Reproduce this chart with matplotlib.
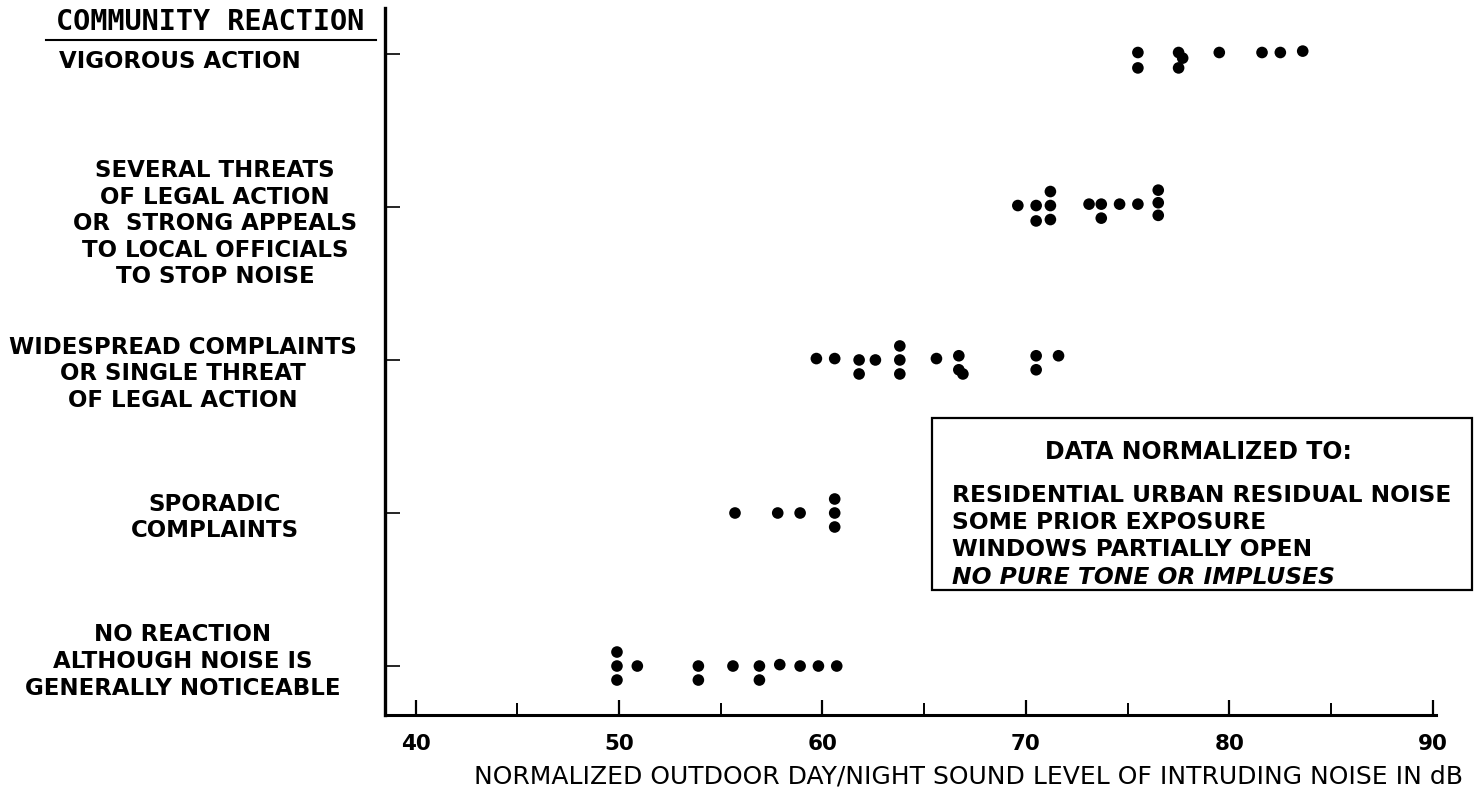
import matplotlib
matplotlib.use("Agg")
import matplotlib.pyplot as plt
from matplotlib.transforms import blended_transform_factory
from matplotlib.lines import Line2D
from matplotlib.patches import Rectangle

# ---------------- data ----------------
categories = [
    "NO REACTION\nALTHOUGH NOISE IS\nGENERALLY NOTICEABLE",
    "SPORADIC\nCOMPLAINTS",
    "WIDESPREAD COMPLAINTS\nOR SINGLE THREAT\nOF LEGAL ACTION",
    "SEVERAL THREATS\nOF LEGAL ACTION\nOR  STRONG APPEALS\nTO LOCAL OFFICIALS\nTO STOP NOISE",
    "VIGOROUS ACTION",
]

no_reaction_db = [49.9, 49.9, 49.9, 50.9, 53.9, 53.9, 55.6, 56.9, 56.9, 57.9, 58.9, 59.8, 60.7]
no_reaction_stack = [1, 0, -1, 0, 0, -1, 0, 0, -1, 0.1, 0, 0, 0]

sporadic_db = [55.7, 57.8, 58.9, 60.6, 60.6, 60.6]
sporadic_stack = [0, 0, 0, 1, 0, -1]

widespread_db = [59.7, 60.6, 61.8, 61.8, 62.6, 63.8, 63.8, 63.8, 65.6, 66.7, 66.7, 66.9, 70.5, 70.5, 71.6]
widespread_stack = [0.1, 0.1, 0, -1, 0, 1, 0, -1, 0.1, 0.3, -0.7, -1, 0.3, -0.7, 0.3]

several_db = [69.6, 70.5, 70.5, 71.2, 71.2, 71.2, 73.1, 73.7, 73.7, 74.6, 75.5, 76.5, 76.5, 76.5]
several_stack = [0.1, 0.1, -1, 1.1, 0.1, -0.9, 0.2, 0.2, -0.8, 0.2, 0.2, 1.2, 0.3, -0.6]

vigorous_db = [75.5, 75.5, 77.5, 77.7, 77.5, 79.5, 81.6, 82.5, 83.6]
vigorous_stack = [0.1, -1, 0.1, -0.3, -1, 0.1, 0.1, 0.1, 0.2]

x_ticks = [40, 50, 60, 70, 80, 90]
x_minor_ticks = [45, 55, 65, 75, 85]

box_title = "DATA NORMALIZED TO:"
box_lines = ["RESIDENTIAL URBAN RESIDUAL NOISE", "SOME PRIOR EXPOSURE", "WINDOWS PARTIALLY OPEN"]
box_last_line = "NO PURE TONE OR IMPLUSES"

y_title = "COMMUNITY REACTION"
x_label = "NORMALIZED OUTDOOR DAY/NIGHT SOUND LEVEL OF INTRUDING NOISE IN dB"

# ---------------- figure ----------------
W, H = 1477, 799
fig = plt.figure(figsize=(W / 100, H / 100), dpi=100)
fig.patch.set_facecolor("white")

def fx(px):
    return px / W

def fy(py):
    return 1 - py / H

ax = fig.add_axes([fx(385), fy(715), fx(1436) - fx(385), fy(8) - fy(715)])
ax.set_xlim(38.5, 90.15)
ax.set_ylim(-0.32, 4.30)

level = 0.0915
series = [
    (no_reaction_db, no_reaction_stack),
    (sporadic_db, sporadic_stack),
    (widespread_db, widespread_stack),
    (several_db, several_stack),
    (vigorous_db, vigorous_stack),
]
for cat, (xs, st) in enumerate(series):
    ys = [cat + s * level for s in st]
    ax.scatter(xs, ys, s=70, color="black", edgecolors="none", zorder=3)

for side in ["top", "right"]:
    ax.spines[side].set_visible(False)
ax.spines["left"].set_linewidth(2.4)
ax.spines["bottom"].set_linewidth(2.2)

ax.set_xticks(x_ticks)
ax.set_xticks(x_minor_ticks, minor=True)
ax.tick_params(axis="x", which="major", direction="in", length=11, width=1.6,
               labelsize=15.5, pad=14)
ax.tick_params(axis="x", which="minor", direction="in", length=9, width=1.4)
for lab in ax.get_xticklabels():
    lab.set_fontweight("bold")

ax.set_yticks(range(len(categories)))
ax.set_yticklabels([])
ax.tick_params(axis="y", direction="in", length=11, width=1.2)

# category labels (centred blocks left of axis)
tr = blended_transform_factory(fig.transFigure, ax.transData)
label_centres_px = [183, 215, 183, 215, 180]
label_dy = [0.03, -0.03, -0.09, -0.11, -0.05]
for i, txt in enumerate(categories):
    ax.text(fx(label_centres_px[i]), i + label_dy[i], txt, transform=tr,
            ha="center", va="center", multialignment="center",
            fontsize=16.5, fontweight="bold", linespacing=1.2)

# column title with underline
fig.text(fx(210), fy(22), y_title, ha="center", va="center",
         fontsize=20.5, fontweight="bold", family="DejaVu Sans Mono")
fig.add_artist(Line2D([fx(46), fx(376)], [fy(40), fy(40)],
                      transform=fig.transFigure, color="black", lw=1.5))

# x label
fig.text(fx(968), fy(777), x_label, ha="center", va="center", fontsize=18)

# legend-like box
fig.add_artist(Rectangle((fx(932), fy(590)), fx(1472) - fx(932), fy(418) - fy(590),
                         transform=fig.transFigure, fill=False, ec="black", lw=1.6))
fig.text(fx(1198), fy(452), box_title, ha="center", va="center",
         fontsize=17, fontweight="bold")
for j, line in enumerate(box_lines):
    fig.text(fx(952), fy(495 + 27.5 * j), line, ha="left", va="center",
             fontsize=16.8, fontweight="bold")
fig.text(fx(952), fy(495 + 27.5 * 3), box_last_line, ha="left", va="center",
         fontsize=16.8, fontweight="bold", style="italic")

fig.savefig("out.png", dpi=100, facecolor="white")
